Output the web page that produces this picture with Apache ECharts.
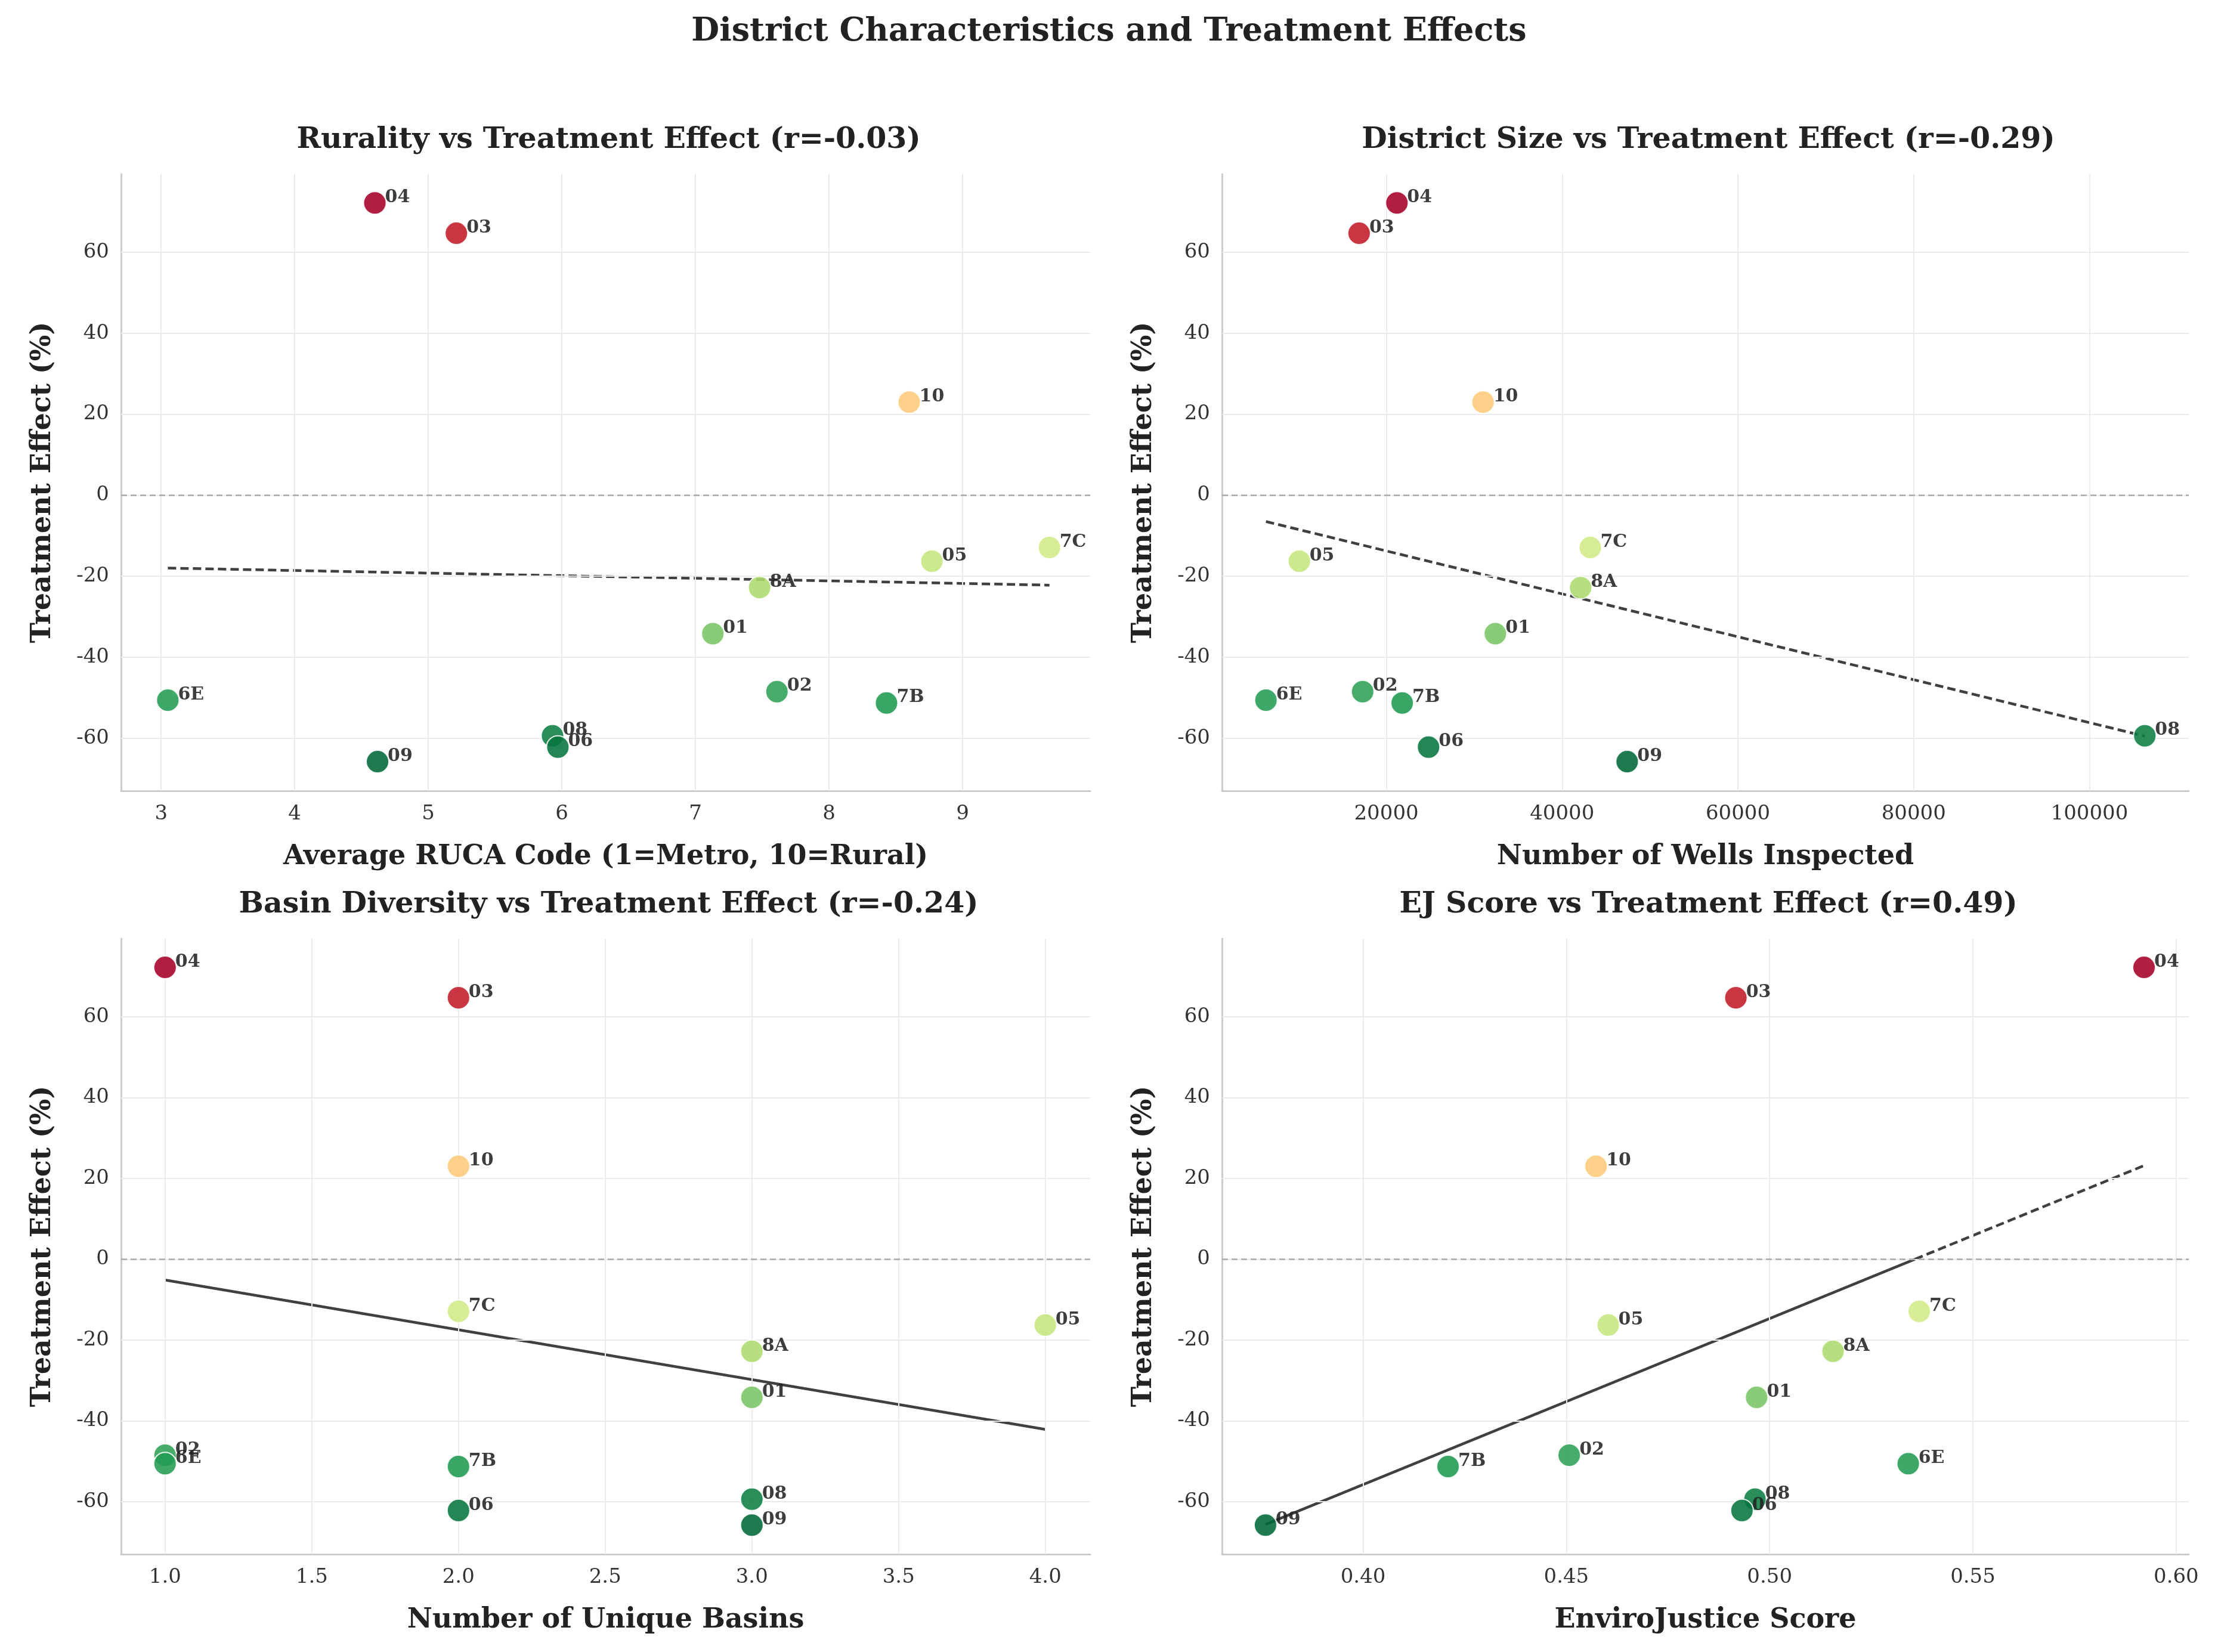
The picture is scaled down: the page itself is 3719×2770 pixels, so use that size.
<!DOCTYPE html>
<html><head><meta charset="utf-8">
<script src="https://cdn.jsdelivr.net/npm/echarts@6/dist/echarts.min.js"></script>
<style>html,body{margin:0;padding:0;background:#fff}#c{width:3719px;height:2770px}</style>
</head><body><div id="c"></div>
<script>
const districts = ['04','03','10','7C','05','8A','01','02','7B','6E','08','06','09'];
const effect    = [72.2, 64.7, 23.0, -12.9, -16.3, -22.8, -34.2, -48.5, -51.3, -50.6, -59.4, -62.2, -65.8];
const ruca      = [4.60, 5.21, 8.60, 9.65, 8.77, 7.48, 7.13, 7.61, 8.43, 3.05, 5.93, 5.97, 4.62];
const wells     = [21200, 16900, 31000, 43200, 10100, 42100, 32400, 17300, 21800, 6300, 106300, 24800, 47400];
const basins    = [1, 2, 2, 2, 4, 3, 3, 1, 2, 1, 3, 2, 3];
const ejScore   = [0.5921, 0.4917, 0.4573, 0.5368, 0.4603, 0.5156, 0.4968, 0.4507, 0.4209, 0.5341, 0.4964, 0.4932, 0.3760];
const titles = ['Rurality vs Treatment Effect (r=-0.03)','District Size vs Treatment Effect (r=-0.29)',
  'Basin Diversity vs Treatment Effect (r=-0.24)','EJ Score vs Treatment Effect (r=0.49)'];
const xNames = ['Average RUCA Code (1=Metro, 10=Rural)','Number of Wells Inspected','Number of Unique Basins','EnviroJustice Score'];
const xTicks = [[3,4,5,6,7,8,9],[20000,40000,60000,80000,100000],[1.0,1.5,2.0,2.5,3.0,3.5,4.0],[0.40,0.45,0.50,0.55,0.60]];
const yTicks = [-60,-40,-20,0,20,40,60];

const xs = [ruca, wells, basins, ejScore];
const xRange = [[2.70,9.955],[1300,111300],[0.85,4.153],[0.3653,0.6031]];
const xFmt = [v=>String(v), v=>String(v), v=>v.toFixed(1), v=>v.toFixed(2)];
const lineStyles = ['dashed','dashed','solid','mixed'];
const grids = [
  {left:203, top:292, width:1625, height:1034},
  {left:2049, top:292, width:1621, height:1034},
  {left:203, top:1574, width:1625, height:1032},
  {left:2049, top:1574, width:1621, height:1032}];

const cmap = ['#006837','#1a9850','#66bd63','#a6d96a','#d9ef8b','#ffffbf','#fee08b','#fdae61','#f46d43','#d73027','#a50026'];
const font = 'DejaVu Serif';

function fit(x, y){
  const n=x.length; let mx=0,my=0; for(let i=0;i<n;i++){mx+=x[i];my+=y[i];} mx/=n; my/=n;
  let sxy=0,sxx=0; for(let i=0;i<n;i++){sxy+=(x[i]-mx)*(y[i]-my); sxx+=(x[i]-mx)**2;}
  const b=sxy/sxx; return [b, my-b*mx];
}

const option = {
  backgroundColor:'#fff',
  animation:false,
  title: [{text:'District Characteristics and Treatment Effects', left:'center', top:22,
    textStyle:{fontFamily:font, fontWeight:'bold', fontSize:54, color:'#222'}}]
    .concat(grids.map((g,i)=>({text:titles[i], left:g.left+g.width/2, top:g.top-86, textAlign:'center',
      textStyle:{fontFamily:font, fontWeight:'bold', fontSize:49, color:'#222'}}))),
  visualMap: {show:false, type:'continuous', min:Math.min(...effect), max:Math.max(...effect),
    dimension:1, seriesIndex:[0,1,2,3], inRange:{color:cmap}},
  grid: grids,
  xAxis: grids.map((g,i)=>({type:'value', gridIndex:i, min:xRange[i][0], max:xRange[i][1],
    name:xNames[i], nameLocation:'middle', nameGap:88,
    nameTextStyle:{fontFamily:font, fontWeight:'bold', fontSize:46, color:'#222'},
    axisLine:{show:true, onZero:false, lineStyle:{color:'#cccccc', width:3}},
    axisTick:{show:false},
    splitLine:{show:false},
    axisLabel:{customValues:xTicks[i], formatter:xFmt[i], fontFamily:font, fontSize:34, color:'#333', margin:22}})),
  yAxis: grids.map((g,i)=>({type:'value', gridIndex:i, min:-73, max:79.3,
    name:'Treatment Effect (%)', nameLocation:'middle', nameGap:108,
    nameTextStyle:{fontFamily:font, fontWeight:'bold', fontSize:46, color:'#222'},
    axisLine:{show:true, lineStyle:{color:'#cccccc', width:3}},
    axisTick:{show:false}, splitLine:{show:false},
    axisLabel:{customValues:yTicks, fontFamily:font, fontSize:34, color:'#333', margin:20}})),
  series: []
};

for(let i=0;i<4;i++){
  option.series.push({type:'scatter', xAxisIndex:i, yAxisIndex:i, z:5,
    data: districts.map((d,k)=>({value:[xs[i][k], effect[k]], name:d})),
    symbolSize:38,
    itemStyle:{opacity:0.88, borderColor:'#fff', borderWidth:2},
    label:{show:true, position:'right', formatter:p=>p.name, offset:[-8,-9],
      fontFamily:font, fontWeight:'bold', fontSize:30, color:'#222'}
  });
}
for(let i=0;i<4;i++){
  const gl = xTicks[i].map(v=>({xAxis:v})).concat(yTicks.map(v=>({yAxis:v})));
  option.series.push({type:'line', xAxisIndex:i, yAxisIndex:i, data:[], silent:true, z:1,
    markLine:{silent:true, symbol:'none', label:{show:false}, animation:false,
      lineStyle:{color:'#ebebeb', width:2, type:'solid'}, data:gl}});
  option.series.push({type:'line', xAxisIndex:i, yAxisIndex:i, data:[], silent:true, z:2,
    markLine:{silent:true, symbol:'none', label:{show:false}, animation:false,
      lineStyle:{color:'#aaaaaa', width:2.5, type:[10,6]}, data:[{yAxis:0}]}});
  const [b,a] = fit(xs[i], effect);
  const x0 = Math.min(...xs[i]), x1 = Math.max(...xs[i]);
  const ls = {color:'#404040', width:4.5};
  if(lineStyles[i]==='mixed'){
    const xz = -a/b;
    option.series.push({type:'line', xAxisIndex:i, yAxisIndex:i, symbol:'none', silent:true, z:3,
      data:[[x0,a+b*x0],[xz,0]], lineStyle:Object.assign({type:'solid'},ls)});
    option.series.push({type:'line', xAxisIndex:i, yAxisIndex:i, symbol:'none', silent:true, z:3,
      data:[[xz,0],[x1,a+b*x1]], lineStyle:Object.assign({type:[14,7]},ls)});
  } else {
    option.series.push({type:'line', xAxisIndex:i, yAxisIndex:i, symbol:'none', silent:true, z:3,
      data:[[x0,a+b*x0],[x1,a+b*x1]], lineStyle:Object.assign({type:lineStyles[i]==='dashed'?[14,7]:'solid'},ls)});
  }
}
const chart = echarts.init(document.getElementById('c'));
chart.setOption(option);
</script></body></html>
